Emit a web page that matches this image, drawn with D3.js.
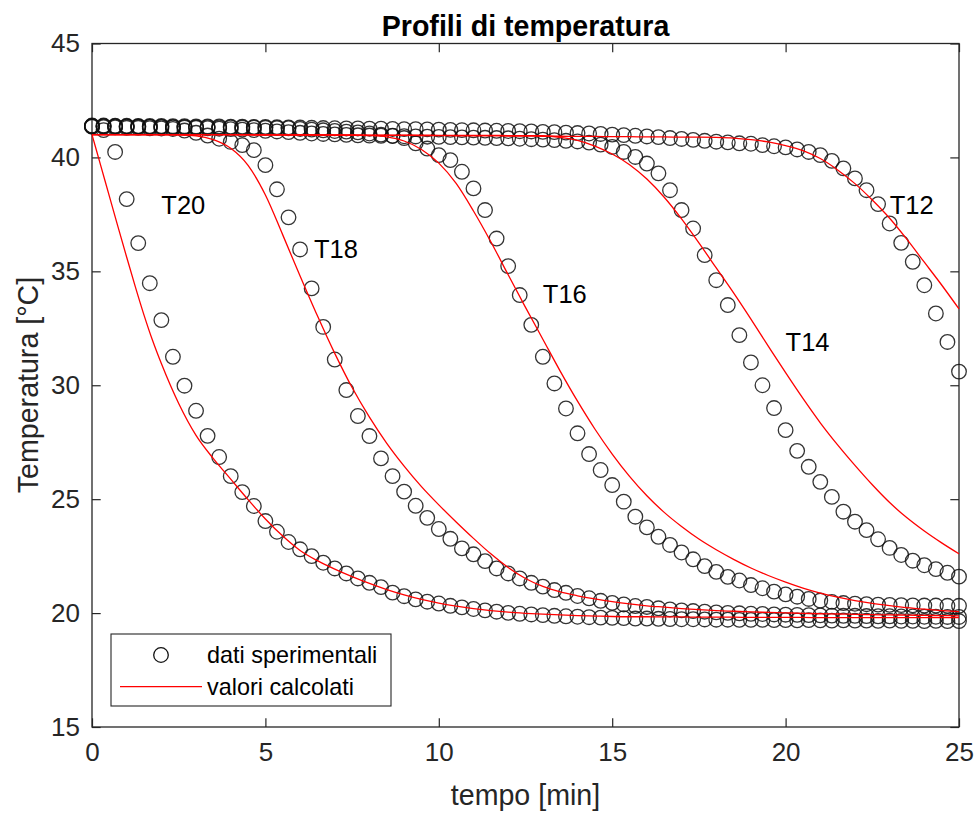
<!DOCTYPE html>
<html>
<head>
<meta charset="utf-8">
<script src="https://cdn.jsdelivr.net/npm/d3@7"></script>
<style>
html,body{margin:0;padding:0;background:#fff;}
svg{display:block;}
text{font-family:"Liberation Sans",Arial,Helvetica,sans-serif;}
</style>
</head>
<body>
<svg id="chart" width="978" height="814"></svg>
<script>
// Sampling instants of the measurements (seconds)
const tempoSec = [0,20,40,60,80,100,120,140,160,180,200,220,240,260,280,300,320,340,360,380,
  400,420,440,460,480,500,520,540,560,580,600,620,640,660,680,700,720,740,760,780,
  800,820,840,860,880,900,920,940,960,980,1000,1020,1040,1060,1080,1100,1120,1140,1160,1180,
  1200,1220,1240,1260,1280,1300,1320,1340,1360,1380,1400,1420,1440,1460,1480,1500];

// Measured temperatures (°C)
const expT20 = [41.35,41.2,40.24,38.17,36.24,34.48,32.86,31.25,29.98,28.88,
  27.78,26.85,26.01,25.31,24.70,24.04,23.57,23.12,22.80,22.50,
  22.21,21.96,21.74,21.52,21.33,21.14,20.90,20.74,20.60,20.50,
  20.42,20.32,20.25,20.18,20.12,20.06,20.01,19.97,19.94,19.91,
  19.88,19.86,19.84,19.82,19.80,19.79,19.78,19.76,19.76,19.75,
  19.74,19.73,19.73,19.72,19.71,19.71,19.70,19.70,19.70,19.69,
  19.69,19.68,19.69,19.68,19.67,19.68,19.67,19.67,19.66,19.67,
  19.66,19.66,19.65,19.66,19.65,19.65];
const expT18 = [41.35,41.33,41.32,41.30,41.30,41.28,41.27,41.25,41.18,41.08,
  40.96,40.82,40.68,40.54,40.32,39.66,38.60,37.37,35.96,34.25,
  32.56,31.13,29.79,28.65,27.77,26.79,26.01,25.33,24.71,24.18,
  23.69,23.26,22.84,22.58,22.28,21.96,21.74,21.52,21.33,21.16,
  21.01,20.89,20.75,20.65,20.54,20.45,20.38,20.31,20.27,20.21,
  20.16,20.12,20.09,20.06,20.03,20.01,19.99,19.97,19.96,19.94,
  19.93,19.92,19.91,19.90,19.89,19.88,19.88,19.87,19.86,19.86,
  19.85,19.85,19.84,19.84,19.83,19.83];
const expT16 = [41.38,41.37,41.37,41.36,41.36,41.35,41.35,41.34,41.34,41.33,
  41.33,41.32,41.32,41.31,41.31,41.30,41.29,41.28,41.25,41.22,
  41.19,41.16,41.13,41.10,41.05,41.00,40.95,40.85,40.62,40.39,
  40.10,39.88,39.37,38.64,37.69,36.44,35.23,33.96,32.65,31.25,
  30.08,28.98,27.89,26.98,26.28,25.62,24.89,24.23,23.76,23.35,
  22.99,22.66,22.36,22.06,21.81,21.59,21.43,21.23,21.09,20.94,
  20.82,20.72,20.62,20.55,20.49,20.44,20.41,20.39,20.37,20.36,
  20.35,20.34,20.33,20.33,20.32,20.32];
const expT14 = [41.38,41.37,41.36,41.36,41.35,41.34,41.33,41.32,41.31,41.30,
  41.28,41.26,41.24,41.22,41.20,41.17,41.14,41.11,41.08,41.05,
  41.03,41.01,40.99,40.97,40.96,40.95,40.94,40.93,40.92,40.91,
  40.90,40.89,40.88,40.87,40.86,40.85,40.84,40.82,40.80,40.78,
  40.76,40.73,40.70,40.65,40.56,40.46,40.24,40.02,39.73,39.30,
  38.56,37.69,36.88,35.71,34.61,33.52,32.20,31.00,30.00,29.00,
  28.03,27.12,26.42,25.76,25.10,24.45,24.01,23.64,23.24,22.86,
  22.55,22.30,22.10,21.93,21.77,21.60];
const expT12 = [41.40,41.40,41.39,41.39,41.38,41.38,41.38,41.37,41.37,41.36,
  41.36,41.36,41.35,41.35,41.34,41.34,41.33,41.32,41.31,41.30,
  41.29,41.28,41.27,41.27,41.26,41.26,41.25,41.24,41.24,41.23,
  41.22,41.21,41.20,41.19,41.18,41.17,41.16,41.15,41.14,41.12,
  41.11,41.09,41.07,41.05,41.03,41.00,40.98,40.95,40.92,40.89,
  40.85,40.81,40.77,40.73,40.69,40.66,40.62,40.60,40.54,40.49,
  40.44,40.35,40.24,40.10,39.85,39.52,39.08,38.56,37.95,37.10,
  36.25,35.42,34.39,33.15,31.90,30.60];

// Model time grid (minutes) and computed temperatures (°C)
const tempoCalc = [0,0.25,0.5,0.75,1,1.25,1.5,1.75,2,
  2.5,3,3.5,4,4.5,5,5.5,6,6.5,7,
  7.5,8,8.5,9,9.5,10,10.5,11,11.5,12,
  12.5,13,13.5,14,14.5,15,15.5,16,16.5,17,
  17.5,18,18.5,19,19.5,20,20.5,21,21.5,22,
  22.5,23,23.5,24,24.5,25];
const calcT20 = [41.0,39.65,38.3,36.95,35.62,34.32,33.08,31.95,30.95,
  29.2,27.8,26.78,25.88,24.98,24.13,23.38,22.75,22.3,21.93,
  21.6,21.3,21.03,20.8,20.6,20.44,20.31,20.2,20.11,20.04,
  19.99,19.95,19.92,19.89,19.87,19.85,19.84,19.84,19.83,19.83,
  19.82,19.82,19.82,19.81,19.81,19.81,19.81,19.8,19.8,19.8,
  19.8,19.8,19.8,19.8,19.8,19.8];
const calcT18 = [41.0,41.0,41.0,41.0,41.0,41.0,41.0,41.0,41.0,
  40.99,40.95,40.78,40.4,39.65,38.35,36.6,34.8,33.05,31.4,
  29.9,28.6,27.45,26.45,25.55,24.75,24.0,23.28,22.6,22.0,
  21.52,21.17,20.93,20.76,20.62,20.5,20.4,20.32,20.26,20.2,
  20.15,20.11,20.08,20.05,20.03,20.01,19.99,19.97,19.96,19.94,
  19.93,19.92,19.91,19.9,19.89,19.88];
const calcT16 = [41.0,41.0,41.0,41.0,41.0,41.0,41.0,41.0,41.0,
  41.0,41.0,41.0,41.0,41.0,40.99,40.99,40.99,40.99,40.98,
  40.98,40.96,40.9,40.72,40.35,39.75,38.86,37.65,36.3,34.85,
  33.42,32.02,30.62,29.3,28.08,26.98,26.0,25.15,24.42,23.8,
  23.25,22.78,22.36,21.98,21.65,21.36,21.1,20.88,20.7,20.55,
  20.43,20.33,20.24,20.17,20.11,20.06];
const calcT14 = [41.0,41.0,41.0,41.0,41.0,41.0,41.0,41.0,41.0,
  41.0,41.0,41.0,41.0,41.0,40.99,40.99,40.99,40.99,40.99,
  40.98,40.98,40.98,40.98,40.98,40.97,40.97,40.97,40.97,40.96,
  40.96,40.95,40.88,40.75,40.5,40.15,39.68,39.05,38.25,37.3,
  36.25,35.15,34.05,32.9,31.72,30.55,29.42,28.35,27.38,26.48,
  25.63,24.85,24.18,23.6,23.08,22.6];
const calcT12 = [41.0,41.0,41.0,41.0,41.0,41.0,41.0,41.0,41.0,
  41.0,41.0,41.0,41.0,40.99,40.99,40.99,40.99,40.98,40.98,
  40.98,40.97,40.97,40.97,40.96,40.96,40.95,40.95,40.95,40.94,
  40.94,40.93,40.93,40.92,40.92,40.91,40.91,40.9,40.9,40.89,
  40.89,40.88,40.85,40.78,40.68,40.52,40.3,39.95,39.45,38.85,
  38.13,37.33,36.4,35.4,34.4,33.35];

// Curve labels and their anchor points (minutes, °C)
const labelNames = ["T20","T18","T16","T14","T12"];
const labelX = [2, 6.4, 13, 20, 23];
const labelY = [37.9, 36, 34, 31.9, 37.9];

const xTicks = [0,5,10,15,20,25];
const yTicks = [15,20,25,30,35,40,45];
const legendLabels = ["dati sperimentali","valori calcolati"];

const expSeries = [expT20, expT18, expT16, expT14, expT12];
const calcSeries = [calcT20, calcT18, calcT16, calcT14, calcT12];

const svg = d3.select("#chart");
svg.append("rect").attr("width",978).attr("height",814).attr("fill","#fff");

const x = d3.scaleLinear().domain([0,25]).range([92,959]);
const y = d3.scaleLinear().domain([15,45]).range([727,43.5]);
const axisColor = "#262626";
const tick = 8.7;

// axes: ticks point inward on all four sides
const gx = svg.append("g").attr("transform","translate(0,727)")
  .call(d3.axisBottom(x).tickValues(xTicks).tickSize(-tick).tickPadding(15.7));
const gxt = svg.append("g").attr("transform","translate(0,43.5)")
  .call(d3.axisTop(x).tickValues(xTicks).tickSize(-tick).tickFormat(""));
const gy = svg.append("g").attr("transform","translate(92,0)")
  .call(d3.axisLeft(y).tickValues(yTicks).tickSize(-tick).tickPadding(12));
const gyr = svg.append("g").attr("transform","translate(959,0)")
  .call(d3.axisRight(y).tickValues(yTicks).tickSize(-tick).tickFormat(""));
[gx,gxt,gy,gyr].forEach(g => {
  g.select(".domain").remove();
  g.selectAll(".tick line").attr("stroke",axisColor).attr("stroke-width",1.2);
  g.selectAll(".tick text").attr("fill",axisColor).attr("font-size",26)
    .attr("font-family","'Liberation Sans',Arial,sans-serif");
});
// axes box
svg.append("rect").attr("x",92).attr("y",43.5).attr("width",959-92).attr("height",727-43.5)
  .attr("fill","none").attr("stroke",axisColor).attr("stroke-width",1.3);

// experimental points
const expG = svg.append("g");
expSeries.forEach(vals => {
  expG.append("g").selectAll("circle").data(vals).join("circle")
    .attr("cx",(d,i)=>x(tempoSec[i]/60))
    .attr("cy",d=>y(d))
    .attr("r",7.3)
    .attr("fill","none")
    .attr("stroke","#111")
    .attr("stroke-opacity",0.85)
    .attr("stroke-width",1.3);
});

// computed curves
const line = d3.line().x((d,i)=>x(tempoCalc[i])).y(d=>y(d)).curve(d3.curveMonotoneX);
calcSeries.forEach(vals => {
  svg.append("path").datum(vals).attr("d",line)
    .attr("fill","none").attr("stroke","#ff0000").attr("stroke-width",1.3);
});

// curve labels
svg.append("g").selectAll("text").data(labelNames).join("text")
  .attr("x",(d,i)=>x(labelX[i])).attr("y",(d,i)=>y(labelY[i]))
  .attr("dominant-baseline","central")
  .attr("font-size",25.5).attr("fill","#000").text(d=>d);

// title and axis labels
svg.append("text").attr("x",525.5).attr("y",26).attr("text-anchor","middle")
  .attr("dominant-baseline","central").attr("font-size",28.6).attr("font-weight","bold")
  .attr("fill","#000").text("Profili di temperatura");
svg.append("text").attr("x",525.5).attr("y",795).attr("text-anchor","middle")
  .attr("dominant-baseline","central").attr("font-size",28.6)
  .attr("fill",axisColor).text("tempo [min]");
svg.append("text").attr("transform","translate(28,385) rotate(-90)").attr("text-anchor","middle")
  .attr("dominant-baseline","central").attr("font-size",28.6)
  .attr("fill",axisColor).text("Temperatura [°C]");

// legend
const lg = svg.append("g");
lg.append("rect").attr("x",111).attr("y",634).attr("width",280).attr("height",72)
  .attr("fill","#fff").attr("stroke",axisColor).attr("stroke-width",1.1);
lg.append("circle").attr("cx",161).attr("cy",655).attr("r",7.3)
  .attr("fill","none").attr("stroke","#111").attr("stroke-width",1.3);
lg.append("line").attr("x1",120).attr("x2",202).attr("y1",686.7).attr("y2",686.7)
  .attr("stroke","#ff0000").attr("stroke-width",1.3);
lg.selectAll("text.lbl").data(legendLabels).join("text").attr("class","lbl")
  .attr("x",207).attr("y",(d,i)=>i===0?655:686.5)
  .attr("dominant-baseline","central").attr("font-size",23.4).attr("fill","#000").text(d=>d);
</script>
</body>
</html>
